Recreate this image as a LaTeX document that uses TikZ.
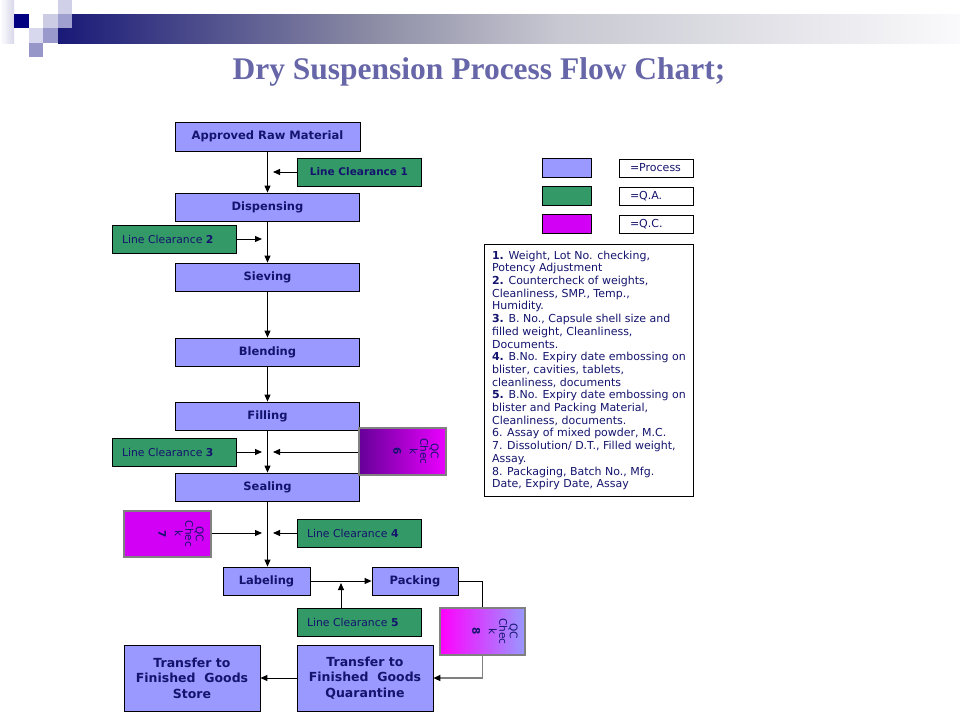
\documentclass[tikz,border=0pt]{standalone}
\usepackage{fontspec}
\setmainfont{DejaVu Sans}
\newfontfamily\titlefont{Liberation Serif}
\usetikzlibrary{arrows.meta}
\definecolor{procc}{RGB}{153,153,255}
\definecolor{qac}{RGB}{51,153,102}
\definecolor{qcc}{RGB}{210,0,245}
\definecolor{navytxt}{RGB}{20,20,110}
\definecolor{titlec}{RGB}{102,102,168}
\definecolor{qcdark}{RGB}{102,0,153}
\definecolor{qcmag}{RGB}{235,0,255}
\definecolor{magc}{RGB}{255,0,255}
\definecolor{hnavy}{RGB}{25,25,120}
\definecolor{hmid}{RGB}{140,140,165}
\definecolor{hlight}{RGB}{200,200,210}
\definecolor{hwhite}{RGB}{250,250,252}
\definecolor{greyline}{RGB}{128,128,128}
\tikzset{
  box/.style={draw=black, line width=0.8pt, inner sep=0pt, text=navytxt, align=center},
  procbox/.style={box, fill=procc, font=\fontsize{11.5}{15.5}\selectfont\bfseries},
  qabox/.style={box, fill=qac, minimum width=124pt, minimum height=28pt,
    font=\fontsize{10.8}{13}\selectfont},
  qaleft/.style={qabox, inner xsep=10pt, text width=104pt, align=left},
  qcbox/.style={draw=greyline, line width=1.5pt, inner sep=0pt},
  qctext/.style={rotate=-90, anchor=north, inner sep=0pt, text=navytxt, align=center,
    font=\fontsize{10.5}{10.5}\selectfont},
  legbox/.style={draw=black, line width=0.8pt, minimum width=74pt, minimum height=18pt,
    inner sep=0pt, inner xsep=11pt, text width=52pt, align=left, text=navytxt,
    font=\fontsize{11}{13}\selectfont},
  swatch/.style={draw=black, line width=0.8pt, minimum width=49pt, minimum height=19pt, inner sep=0pt},
  arr/.style={-{Triangle[length=7pt,width=6pt,color=black]}, line width=1pt},
  plain/.style={line width=1pt}
}
\begin{document}
\begin{tikzpicture}[x=1pt,y=-1pt]
\useasboundingbox (0,0) rectangle (960,720);
% header decoration
\shade[left color=white, right color={rgb,255:red,215;green,215;blue,235}] (0,0) rectangle (14,43);
\shade[left color=hnavy, right color=hmid] (58,14) rectangle (372.5,43);
\shade[left color=hmid, right color=hlight] (372,14) rectangle (558.5,43);
\shade[left color=hlight, right color=hwhite] (558,14) rectangle (960,43);
\fill[fill={rgb,255:red,208;green,208;blue,232}] (58,0) rectangle (72,14);
\fill[fill={rgb,255:red,0;green,0;blue,128}] (14,14) rectangle (29,28);
\fill[fill={rgb,255:red,204;green,204;blue,228}] (43,14) rectangle (58,28);
\fill[fill={rgb,255:red,160;green,160;blue,208}] (58,14) rectangle (72,28);
\fill[fill={rgb,255:red,215;green,215;blue,238}] (29,28) rectangle (43,43);
\fill[fill={rgb,255:red,153;green,153;blue,204}] (43,28) rectangle (58,43);
\fill[fill={rgb,255:red,150;green,150;blue,200}] (29,43) rectangle (43,57);

% title
\node[font=\titlefont\fontsize{31.5}{34}\selectfont\bfseries, text=titlec, anchor=base, inner sep=0pt]
  (title) at (479,79) {Dry Suspension Process Flow Chart;};

% process boxes
\node[procbox, minimum width=185pt, minimum height=29pt] (raw) at (267.5,136.5) {Approved Raw Material};
\node[procbox, minimum width=184pt, minimum height=28pt] (disp) at (267.5,207) {Dispensing};
\node[procbox, minimum width=184pt, minimum height=28pt] (siev) at (267.5,277) {Sieving};
\node[procbox, minimum width=184pt, minimum height=28pt] (blend) at (267.5,352) {Blending};
\node[procbox, minimum width=184pt, minimum height=28pt] (fill) at (267.5,416) {Filling};
\node[procbox, minimum width=184pt, minimum height=28pt] (seal) at (267.5,487) {Sealing};
\node[procbox, minimum width=87pt, minimum height=28pt] (label) at (266.5,581) {Labeling};
\node[procbox, minimum width=86pt, minimum height=28pt] (pack) at (415,581) {Packing};
\node[procbox, minimum width=136pt, minimum height=66pt, font=\fontsize{12.5}{15.5}\selectfont\bfseries]
  (quar) at (365,678) {Transfer to\\Finished\ \ Goods\\Quarantine};
\node[procbox, minimum width=136pt, minimum height=66pt, font=\fontsize{12.5}{15.5}\selectfont\bfseries]
  (store) at (192,678) {Transfer to\\Finished\ \ Goods\\Store};

% QA boxes
\node[qabox, font=\fontsize{10.5}{13}\selectfont\bfseries] (lc1) at (359,172) {Line Clearance 1};
\node[qaleft] (lc2) at (174,239) {Line Clearance \textbf{2}};
\node[qaleft] (lc3) at (174,452) {Line Clearance \textbf{3}};
\node[qaleft] (lc4) at (359,533) {Line Clearance \textbf{4}};
\node[qaleft] (lc5) at (359,622) {Line Clearance \textbf{5}};

% QC boxes
\node[qcbox, minimum width=87pt, minimum height=47pt, left color=qcdark, right color=qcmag] (qc6) at (402.5,451.5) {};
\node[qctext] (qc6t) at ([xshift=-8pt]qc6.east) {QC\\Chec\\k\\[6pt]\textbf{6}};
\node[qcbox, minimum width=87pt, minimum height=46pt, fill=qcc] (qc7) at (167.5,534) {};
\node[qctext] (qc7t) at ([xshift=-8pt]qc7.east) {QC\\Chec\\k\\[6pt]\textbf{7}};
\node[qcbox, minimum width=85pt, minimum height=47pt, left color=magc, right color=procc] (qc8) at (482.5,631.5) {};
\node[qctext] (qc8t) at ([xshift=-8pt]qc8.east) {QC\\Chec\\k\\[6pt]\textbf{8}};

% main flow
\draw[arr] (raw.south) -- (disp.north);
\draw[arr] (disp.south) -- (siev.north);
\draw[arr] (siev.south) -- (blend.north);
\draw[arr] (blend.south) -- (fill.north);
\draw[arr] (fill.south) -- (seal.north);
\draw[arr] (seal.south) -- (seal.south |- label.north);
\draw[arr] (label.east) -- (pack.west);
\draw[plain] (pack.east) -| (qc8.north);
\draw[arr, draw=greyline, line width=1.5pt] (qc8.south) |- (quar.east);
\draw[arr] (quar.west) -- (store.east);

% side inputs
\coordinate (t1) at (273,172);
\coordinate (t2) at (262,239);
\coordinate (t3) at (262,452);
\coordinate (t6) at (273,452);
\coordinate (t7) at (262,533);
\coordinate (t4) at (273,533);
\coordinate (t5) at (341,583);
\draw[arr] (lc1.west) -- (t1);
\draw[arr] (lc2.east) -- (t2);
\draw[arr] (lc3.east) -- (t3);
\draw[arr] (qc6.west |- t6) -- (t6);
\draw[arr] (qc7.east |- t7) -- (t7);
\draw[arr] (lc4.west) -- (t4);
\draw[arr] (lc5.north -| t5) -- (t5);

% legend
\node[swatch, fill=procc] (sw1) at (566.5,167.5) {};
\node[swatch, fill=qac] (sw2) at (566.5,195.5) {};
\node[swatch, fill=qcc] (sw3) at (566.5,223.5) {};
\node[legbox] (lg1) at (656,168) {=Process};
\node[legbox] (lg2) at (656,196) {=Q.A.};
\node[legbox] (lg3) at (656,224) {=Q.C.};

% notes
\node[draw=black, line width=0.8pt, minimum width=209pt, minimum height=252pt, inner sep=0pt,
  align=left, text=navytxt, font=\fontsize{11}{12.7}\selectfont, anchor=north west] (notes) at (484,244) {%
\textbf{1.} Weight, Lot No. checking,\\
Potency Adjustment\\
\textbf{2.} Countercheck of weights,\\
Cleanliness, SMP., Temp.,\\
Humidity.\\
\textbf{3.} B. No., Capsule shell size and\\
filled weight, Cleanliness,\\
Documents.\\
\textbf{4.} B.No. Expiry date embossing on\\
blister, cavities, tablets,\\
cleanliness, documents\\
\textbf{5.} B.No. Expiry date embossing on\\
blister and Packing Material,\\
Cleanliness, documents.\\
6. Assay of mixed powder, M.C.\\
7. Dissolution/ D.T., Filled weight,\\
Assay.\\
8. Packaging, Batch No., Mfg.\\
Date, Expiry Date, Assay};
\end{tikzpicture}
\end{document}
